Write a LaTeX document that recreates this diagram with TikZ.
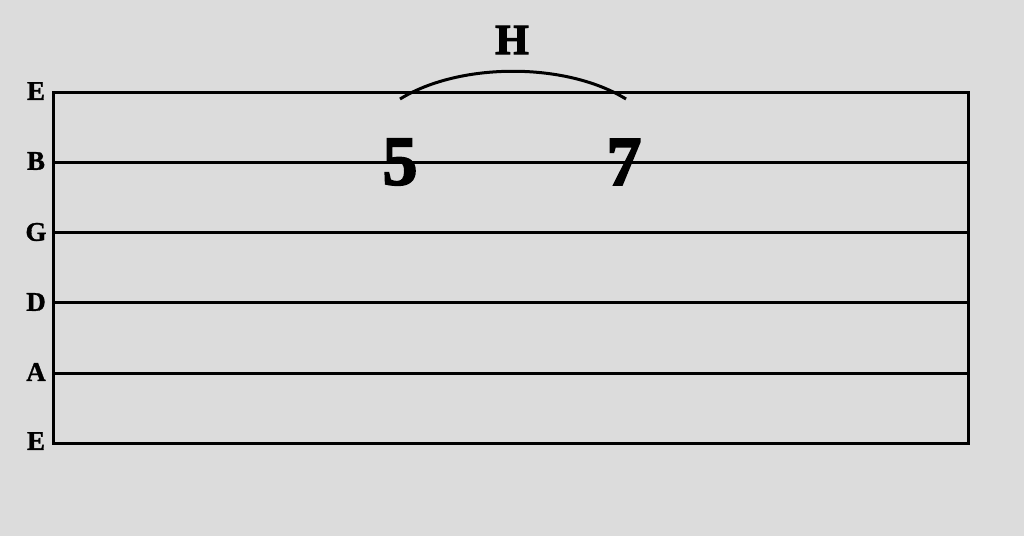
\documentclass[tikz,border=0pt]{standalone}
\usepackage{fontspec}
\setmainfont{Liberation Serif}
\newfontfamily\heavyserif[BoldFont={Liberation Serif Bold},BoldFeatures={FakeBold=2.5}]{Liberation Serif}
\newfontfamily\labelserif[BoldFont={Liberation Serif Bold},BoldFeatures={FakeBold=1.2}]{Liberation Serif}
\begin{document}
\begin{tikzpicture}[x=1pt,y=-1pt,
  stringline/.style={line width=3pt},
  strlabel/.style={font=\labelserif\fontsize{27}{27}\selectfont\bfseries, inner sep=0pt},
  fretnum/.style={font=\heavyserif\fontsize{70}{70}\selectfont\bfseries, inner sep=0pt},
  technique/.style={font=\heavyserif\fontsize{43}{43}\selectfont\bfseries, inner sep=0pt}]
\fill[color={rgb,255:red,220;green,220;blue,220}] (0,0) rectangle (1024,536);
\useasboundingbox (0,0) rectangle (1024,536);
\foreach \n/\y in {1/92,2/162,3/232,4/302,5/373,6/443}{
  \coordinate (L\n) at (53,\y);
  \coordinate (R\n) at (968,\y);
}
\foreach \n in {1,...,6}{ \draw[stringline] (L\n) -- (R\n); }
\draw[stringline,line cap=rect] (L1) -- (L6);
\draw[stringline,line cap=rect] (R1) -- (R6);
\node[strlabel] (sE1) at (36,91) {E};
\node[strlabel] (sB) at (36,161) {B};
\node[strlabel] (sG) at (36,232) {G};
\node[strlabel] (sD) at (36,302) {D};
\node[strlabel] (sA) at (36,372) {A};
\node[strlabel] (sE6) at (36,441) {E};
\node[fretnum] (five) at (400,162) {5};
\node[fretnum] (seven) at (624,162) {7};
\node[technique] (H) at (512,40) {H};
\coordinate (a1) at (400,99);
\coordinate (a2) at (626,99);
\draw[line width=3pt] (a1) .. controls (460,62) and (566,62) .. (a2);
\end{tikzpicture}
\end{document}
